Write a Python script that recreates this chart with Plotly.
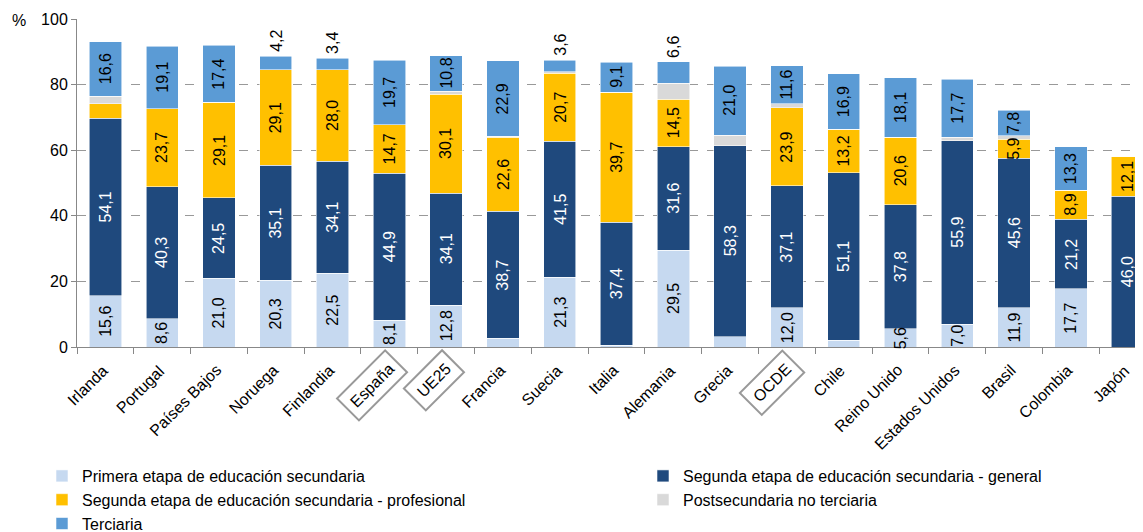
import plotly.graph_objects as go

countries = ["Irlanda", "Portugal", "Países Bajos", "Noruega", "Finlandia", "España", "UE25",
             "Francia", "Suecia", "Italia", "Alemania", "Grecia", "OCDE", "Chile", "Reino Unido",
             "Estados Unidos", "Brasil", "Colombia", "Japón"]
boxed = ["España", "UE25", "OCDE"]

primera = [15.6, 8.6, 21.0, 20.3, 22.5, 8.1, 12.8, 2.7, 21.3, 0.6, 29.5, 3.1, 12.0, 2.1, 5.6, 7.0, 11.9, 17.7, 0.0]
general = [54.1, 40.3, 24.5, 35.1, 34.1, 44.9, 34.1, 38.7, 41.5, 37.4, 31.6, 58.3, 37.1, 51.1, 37.8, 55.9, 45.6, 21.2, 46.0]
profesional = [4.4, 23.7, 29.1, 29.1, 28.0, 14.7, 30.1, 22.6, 20.7, 39.7, 14.5, 0.0, 23.9, 13.2, 20.6, 0.0, 5.9, 8.9, 12.1]
postsec = [2.4, 0.0, 0.0, 0.0, 0.0, 0.0, 1.0, 0.3, 0.4, 0.0, 4.8, 3.2, 1.2, 0.0, 0.0, 1.0, 1.0, 0.0, 0.0]
terciaria = [16.6, 19.1, 17.4, 4.2, 3.4, 19.7, 10.8, 22.9, 3.6, 9.1, 6.6, 21.0, 11.6, 16.9, 18.1, 17.7, 7.8, 13.3, 0.0]

series_names = ["Primera etapa de educación secundaria",
                "Segunda etapa de educación secundaria - general",
                "Segunda etapa de educación secundaria - profesional",
                "Postsecundaria no terciaria",
                "Terciaria"]
series_values = [primera, general, profesional, postsec, terciaria]
colors = ["#C6D9F0", "#1F497D", "#FFC000", "#D9D9D9", "#5B9BD5"]
text_colors = ["black", "white", "black", "black", "black"]
legend_ids = ["legend", "legend2", "legend", "legend2", "legend"]
label_min = [5.0, 0.1, 5.0, 999, 3.0]
above_labels = {("Noruega", 4), ("Finlandia", 4), ("Suecia", 4), ("Alemania", 4)}
no_label = {("Irlanda", 2)}

FONT = "Liberation Sans, Arial, sans-serif"
W, H = 1135, 524  # page body adds an 8px offset

fig = go.Figure()
for name, vals, col, lg in zip(series_names, series_values, colors, legend_ids):
    fig.add_trace(go.Bar(x=countries, y=vals, name=name, marker_color=col, legend=lg,
                         marker_line_color="rgba(255,255,255,0.7)", marker_line_width=0.8,
                         width=0.57))

annotations = []
for i, c in enumerate(countries):
    base = 0.0
    for s, vals in enumerate(series_values):
        v = vals[i]
        if v >= label_min[s] and (c, s) not in no_label:
            txt = f"{v:.1f}".replace(".", ",")
            if (c, s) in above_labels:
                annotations.append(dict(x=c, y=base + v, xref="x", yref="y", text=txt, textangle=-90,
                                        showarrow=False, yanchor="bottom", yshift=2,
                                        font=dict(family=FONT, size=16, color="black")))
            else:
                annotations.append(dict(x=c, y=base + v / 2, xref="x", yref="y", text=txt, textangle=-90,
                                        showarrow=False, font=dict(family=FONT, size=16, color=text_colors[s])))
        base += v

for c in countries:
    a = dict(x=c, y=0, xref="x", yref="paper", text=c, textangle=-45, showarrow=False,
             xanchor="right", yanchor="top", xshift=8, yshift=-12,
             font=dict(family=FONT, size=16, color="black"))
    if c in boxed:
        a.update(bordercolor="#999999", borderwidth=2, borderpad=6, xshift=19, yshift=-2)
    annotations.append(a)

annotations.append(dict(x=-67 / 1066, y=1 - 1 / 328, xref="paper", yref="paper", text="%",
                        showarrow=False, xanchor="left", yanchor="middle",
                        font=dict(family=FONT, size=16, color="black")))

legend_common = dict(orientation="v", xref="container", yref="container", xanchor="left", yanchor="top",
                     itemwidth=30, traceorder="normal", bgcolor="rgba(0,0,0,0)",
                     font=dict(family=FONT, size=16, color="black"))
top_y = 1 - (459 - 8) / H

fig.update_layout(
    width=W, height=H,
    margin=dict(l=69, r=0, t=11, b=185, autoexpand=False),
    barmode="stack",
    plot_bgcolor="white", paper_bgcolor="white",
    font=dict(family=FONT, size=16, color="black"),
    annotations=annotations,
    showlegend=True,
    legend=dict(x=(42 - 8) / W, y=top_y, **legend_common),
    legend2=dict(x=(643 - 8) / W, y=top_y, **legend_common),
)
fig.update_xaxes(range=[-0.5, 18.27], showticklabels=False, ticks="outside", tickson="boundaries",
                 ticklen=6, tickcolor="#888888", showline=True, linecolor="#888888", linewidth=1,
                 showgrid=False)
fig.update_yaxes(range=[0, 100], tickvals=[0, 20, 40, 60, 80, 100], ticks="outside", ticklen=5,
                 tickcolor="#888888", showline=True, linecolor="#888888", linewidth=1,
                 showgrid=True, gridcolor="#999999", griddash="dash", gridwidth=1, zeroline=False,
                 tickfont=dict(family=FONT, size=16, color="black"))

fig.write_html("out.html")
